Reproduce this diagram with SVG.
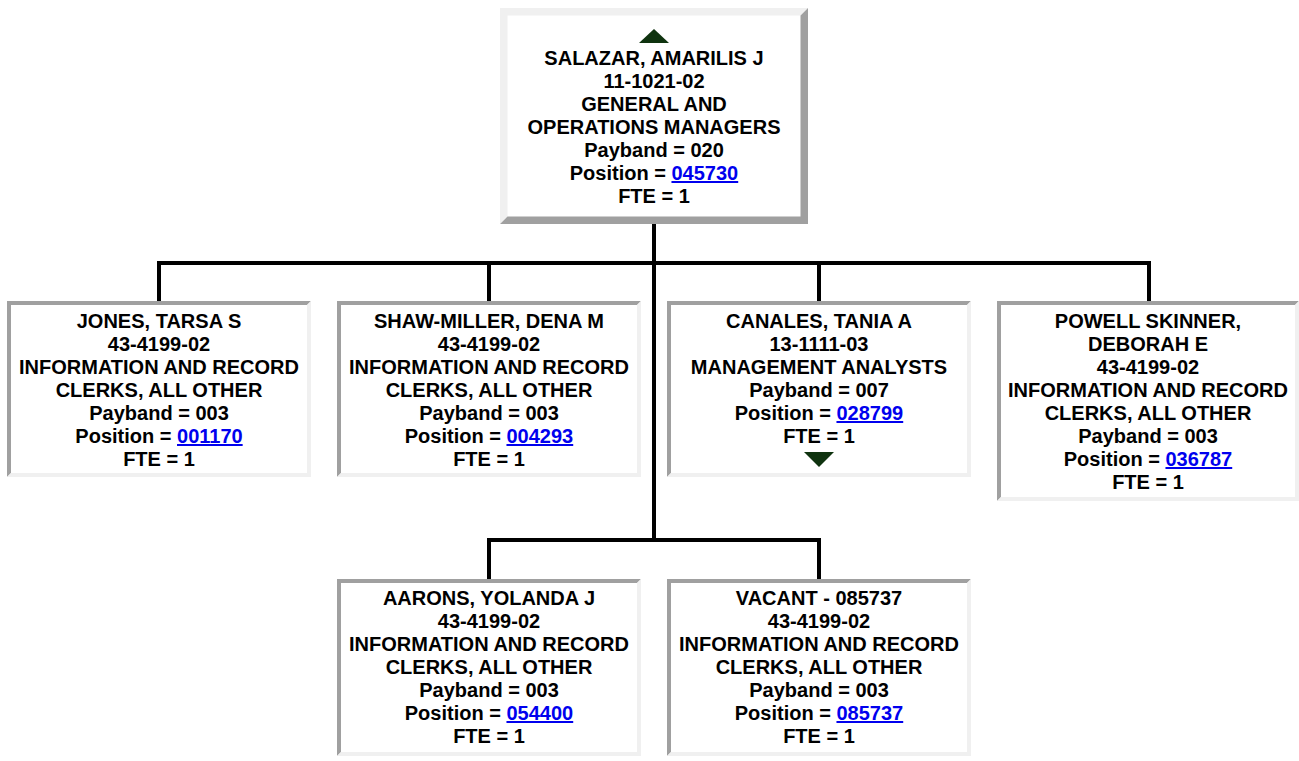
<svg xmlns="http://www.w3.org/2000/svg" width="1299" height="761" viewBox="0 0 1299 761">
<style>
text{font-family:"Liberation Sans",Arial,sans-serif;font-weight:bold;font-size:20px;fill:#000;text-anchor:middle}
.lnk{fill:#0000ee;text-decoration:underline}
.dk{fill:#a0a0a0}
.lt{fill:#f0f0f0}
.bg{fill:#fff}
.con{fill:none;stroke:#000;stroke-width:4;stroke-linejoin:miter}
.tri{fill:#0f330f}
</style>
<rect width="1299" height="761" fill="#fff"/>
<g id="connectors">
<path class="con" d="M654,224 V540"/>
<path class="con" d="M159,303 V263 H1149 V303"/>
<path class="con" d="M489,303 V263"/>
<path class="con" d="M819,303 V263"/>
<path class="con" d="M489,581 V540 H819 V581"/>
</g>
<g id="salazar">
<rect class="bg" x="500" y="8" width="308" height="216"/>
<polygon class="lt" points="500,8 808,8 800.5,15.5 507.5,15.5 507.5,216.5 500,224"/>
<polygon class="dk" points="808,8 808,224 500,224 507.5,216.5 800.5,216.5 800.5,15.5"/>
<polygon class="tri" points="654,29 669,43 639,43"/>
<text x="654" y="65">SALAZAR, AMARILIS J</text>
<text x="654" y="88">11-1021-02</text>
<text x="654" y="111">GENERAL AND</text>
<text x="654" y="134">OPERATIONS MANAGERS</text>
<text x="654" y="157">Payband = 020</text>
<text x="654" y="180">Position = <tspan class="lnk">045730</tspan></text>
<text x="654" y="203">FTE = 1</text>
</g>
<g id="jones">
<rect class="bg" x="7" y="301" width="304" height="176"/>
<polygon class="dk" points="7,301 311,301 307,305 11,305 11,473 7,477"/>
<polygon class="lt" points="311,301 311,477 7,477 11,473 307,473 307,305"/>
<text x="159" y="328">JONES, TARSA S</text>
<text x="159" y="351">43-4199-02</text>
<text x="159" y="374">INFORMATION AND RECORD</text>
<text x="159" y="397">CLERKS, ALL OTHER</text>
<text x="159" y="420">Payband = 003</text>
<text x="159" y="443">Position = <tspan class="lnk">001170</tspan></text>
<text x="159" y="466">FTE = 1</text>
</g>
<g id="shaw-miller">
<rect class="bg" x="337" y="301" width="304" height="176"/>
<polygon class="dk" points="337,301 641,301 637,305 341,305 341,473 337,477"/>
<polygon class="lt" points="641,301 641,477 337,477 341,473 637,473 637,305"/>
<text x="489" y="328">SHAW-MILLER, DENA M</text>
<text x="489" y="351">43-4199-02</text>
<text x="489" y="374">INFORMATION AND RECORD</text>
<text x="489" y="397">CLERKS, ALL OTHER</text>
<text x="489" y="420">Payband = 003</text>
<text x="489" y="443">Position = <tspan class="lnk">004293</tspan></text>
<text x="489" y="466">FTE = 1</text>
</g>
<g id="canales">
<rect class="bg" x="667" y="301" width="304" height="176"/>
<polygon class="dk" points="667,301 971,301 967,305 671,305 671,473 667,477"/>
<polygon class="lt" points="971,301 971,477 667,477 671,473 967,473 967,305"/>
<text x="819" y="328">CANALES, TANIA A</text>
<text x="819" y="351">13-1111-03</text>
<text x="819" y="374">MANAGEMENT ANALYSTS</text>
<text x="819" y="397">Payband = 007</text>
<text x="819" y="420">Position = <tspan class="lnk">028799</tspan></text>
<text x="819" y="443">FTE = 1</text>
<polygon class="tri" points="804,452 834,452 819,467"/>
</g>
<g id="powell-skinner">
<rect class="bg" x="997" y="301" width="302" height="200"/>
<polygon class="dk" points="997,301 1299,301 1295,305 1001,305 1001,497 997,501"/>
<polygon class="lt" points="1299,301 1299,501 997,501 1001,497 1295,497 1295,305"/>
<text x="1148" y="328">POWELL SKINNER,</text>
<text x="1148" y="351">DEBORAH E</text>
<text x="1148" y="374">43-4199-02</text>
<text x="1148" y="397">INFORMATION AND RECORD</text>
<text x="1148" y="420">CLERKS, ALL OTHER</text>
<text x="1148" y="443">Payband = 003</text>
<text x="1148" y="466">Position = <tspan class="lnk">036787</tspan></text>
<text x="1148" y="489">FTE = 1</text>
</g>
<g id="aarons">
<rect class="bg" x="337" y="579" width="304" height="177"/>
<polygon class="dk" points="337,579 641,579 637,583 341,583 341,752 337,756"/>
<polygon class="lt" points="641,579 641,756 337,756 341,752 637,752 637,583"/>
<text x="489" y="605">AARONS, YOLANDA J</text>
<text x="489" y="628">43-4199-02</text>
<text x="489" y="651">INFORMATION AND RECORD</text>
<text x="489" y="674">CLERKS, ALL OTHER</text>
<text x="489" y="697">Payband = 003</text>
<text x="489" y="720">Position = <tspan class="lnk">054400</tspan></text>
<text x="489" y="743">FTE = 1</text>
</g>
<g id="vacant">
<rect class="bg" x="667" y="579" width="304" height="177"/>
<polygon class="dk" points="667,579 971,579 967,583 671,583 671,752 667,756"/>
<polygon class="lt" points="971,579 971,756 667,756 671,752 967,752 967,583"/>
<text x="819" y="605">VACANT - 085737</text>
<text x="819" y="628">43-4199-02</text>
<text x="819" y="651">INFORMATION AND RECORD</text>
<text x="819" y="674">CLERKS, ALL OTHER</text>
<text x="819" y="697">Payband = 003</text>
<text x="819" y="720">Position = <tspan class="lnk">085737</tspan></text>
<text x="819" y="743">FTE = 1</text>
</g>
</svg>
